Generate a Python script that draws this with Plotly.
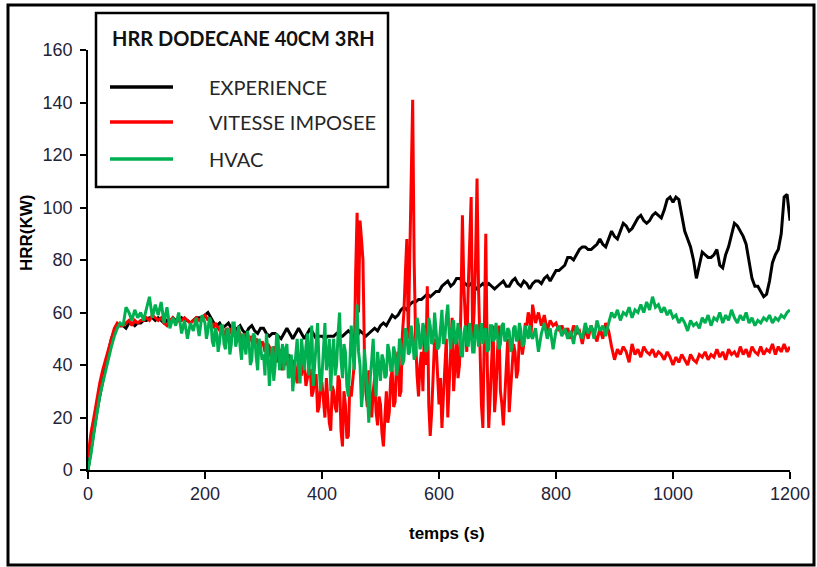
import plotly.graph_objects as go

# time grid (s) for the experimental curve: one sample every 5 s
time_exp = list(range(0, 1205, 5))
# time grid (s) for the simulations: 5 s, then 2.5 s in the unstable phase, then 5 s
time_sim = list(range(0, 200, 5)) + [200 + 2.5 * i for i in range(224)] + list(range(760, 1205, 5))

experience = [
    0, 8, 15, 22, 28, 34, 40, 45, 50, 53, 55, 55, 55, 54, 56, 56, 55, 56, 56, 57,
    57, 58, 58, 57, 58, 57, 56, 57, 56, 58, 57, 57, 58, 57, 57, 56, 57, 58, 58, 58,
    59, 60, 58, 56, 55, 56, 54, 55, 56, 54, 53, 54, 55, 53, 52, 54, 55, 53, 52, 54,
    54, 52, 51, 52, 52, 51, 50, 52, 54, 52, 50, 52, 54, 52, 50, 52, 54, 52, 50, 51,
    51, 50, 51, 51, 51, 52, 51, 51, 52, 53, 52, 50, 51, 53, 52, 51, 52, 53, 54, 53,
    55, 56, 55, 57, 59, 58, 59, 61, 62, 61, 63, 64, 64, 65, 65, 66, 67, 66, 67, 68,
    68, 70, 71, 72, 70, 71, 73, 73, 72, 71, 70, 71, 70, 69, 70, 71, 70, 71, 70, 69,
    70, 71, 72, 70, 70, 72, 73, 71, 70, 72, 71, 69, 71, 72, 72, 71, 73, 74, 72, 74,
    76, 76, 77, 78, 81, 81, 80, 82, 84, 85, 85, 84, 84, 85, 86, 88, 86, 85, 88, 91,
    89, 88, 91, 94, 93, 91, 92, 94, 96, 97, 95, 94, 95, 97, 98, 97, 96, 99, 103, 104,
    102, 104, 103, 97, 91, 88, 85, 80, 73, 78, 83, 82, 81, 81, 82, 84, 78, 77, 82, 85,
    90, 94, 93, 91, 89, 86, 80, 73, 70, 70, 68, 66, 67, 72, 79, 82, 84, 90, 104, 105,
    95,
]

vitesse_imposee = [
    # 0-195 s (5 s)
    5, 14, 20, 27, 33, 38, 42, 46, 50, 54, 56, 55, 55, 56, 57, 55, 57, 56, 57, 57,
    58, 57, 59, 58, 57, 58, 56, 55, 57, 58, 56, 57, 57, 58, 57, 56, 57, 58, 57, 58,
    # 200-297.5 s (2.5 s)
    59, 58, 57, 58, 55, 56, 54, 56, 55, 54, 53, 55, 54, 51, 52, 54, 53, 52, 54, 51,
    52, 53, 51, 53, 52, 49, 50, 52, 51, 48, 49, 51, 50, 47, 48, 50, 49, 46, 47, 49,
    # 300-397.5 s
    48, 45, 46, 48, 47, 43, 45, 47, 46, 41, 44, 46, 42, 38, 44, 41, 40, 44, 43, 36,
    39, 42, 37, 33, 42, 38, 36, 40, 40, 32, 35, 38, 38, 28, 30, 36, 36, 22, 24, 33,
    # 400-497.5 s
    33, 26, 20, 35, 28, 18, 15, 32, 30, 24, 22, 36, 34, 15, 9, 30, 25, 12, 13, 32,
    28, 35, 40, 75, 98, 60, 95, 88, 80, 45, 30, 24, 38, 28, 20, 30, 35, 22, 17, 28,
    # 500-597.5 s
    25, 14, 9, 20, 30, 18, 22, 35, 38, 24, 26, 42, 45, 28, 30, 52, 60, 75, 88, 50,
    85, 110, 141, 80, 50, 36, 28, 40, 45, 30, 55, 40, 70, 25, 13, 22, 35, 50, 48, 38,
    # 600-697.5 s
    25, 35, 16, 28, 38, 50, 20, 32, 45, 58, 30, 42, 50, 35, 40, 62, 97, 70, 55, 45,
    70, 85, 104, 50, 60, 80, 111, 70, 45, 25, 16, 55, 90, 40, 16, 28, 40, 55, 22, 30,
    # 700-757.5 s
    45, 55, 30, 25, 17, 28, 38, 50, 22, 32, 40, 48, 45, 35, 38, 52, 50, 44, 48, 56,
    55, 60, 58, 52,
    # 760-1200 s (5 s)
    63, 56, 60, 55, 59, 53, 57, 55,
    56, 53, 55, 52, 54, 50, 55, 52, 53, 48, 54, 50, 55, 52, 49, 54, 50, 56, 53, 47,
    42, 46, 44, 47, 45, 41, 48, 44, 46, 43, 47, 45, 44, 46, 43, 45, 44, 42, 45, 43,
    40, 43, 41, 44, 42, 40, 44, 42, 41, 44, 43, 45, 42, 44, 43, 46, 43, 45, 42, 46,
    44, 45, 43, 47, 44, 46, 43, 47, 45, 44, 47, 44, 46, 45, 48, 44, 47, 45, 48, 45,
    47,
]

hvac = [
    # 0-195 s (5 s)
    0, 6, 14, 21, 28, 33, 38, 43, 47, 51, 54, 56, 55, 62, 60, 57, 61, 58, 60, 57,
    61, 66, 58, 63, 59, 64, 56, 62, 54, 58, 55, 60, 52, 57, 50, 56, 53, 58, 51, 59,
    # 200-297.5 s (2.5 s)
    56, 50, 53, 58, 57, 49, 47, 54, 52, 45, 49, 55, 55, 48, 46, 53, 54, 44, 48, 56,
    56, 47, 50, 55, 47, 42, 52, 48, 44, 53, 50, 40, 42, 52, 51, 43, 38, 50, 47, 42,
    # 300-397.5 s
    44, 36, 52, 45, 32, 40, 47, 34, 40, 52, 50, 38, 43, 48, 38, 46, 48, 35, 36, 44,
    30, 38, 45, 50, 40, 33, 50, 42, 38, 47, 52, 36, 44, 55, 32, 40, 48, 56, 40, 30,
    # 400-497.5 s
    36, 46, 56, 38, 42, 50, 30, 44, 50, 36, 40, 52, 60, 42, 35, 48, 45, 32, 28, 40,
    55, 46, 38, 52, 63, 45, 40, 24, 30, 46, 38, 30, 18, 35, 42, 50, 35, 28, 45, 38,
    # 500-597.5 s
    34, 44, 42, 35, 36, 48, 45, 38, 38, 47, 44, 36, 40, 50, 48, 40, 42, 54, 52, 44,
    45, 55, 50, 42, 44, 58, 55, 46, 48, 56, 53, 45, 46, 58, 55, 48, 49, 60, 52, 46,
    # 600-697.5 s
    47, 55, 61, 48, 50, 58, 63, 52, 46, 54, 57, 48, 49, 56, 53, 44, 43, 52, 55, 48,
    47, 56, 52, 45, 45, 55, 55, 47, 50, 56, 48, 53, 54, 45, 46, 55, 55, 49, 50, 56,
    # 700-757.5 s
    52, 46, 48, 55, 56, 49, 50, 54, 53, 45, 47, 54, 55, 49, 50, 56, 53, 47, 48, 55,
    52, 50, 55, 51,
    # 760-1200 s (5 s)
    50, 54, 45, 52, 56, 50, 54, 46,
    53, 55, 51, 54, 50, 53, 48, 55, 52, 50, 56, 52, 55, 50, 57, 53, 55, 51, 56, 60,
    58, 61, 57, 60, 59, 62, 58, 61, 60, 63, 60, 64, 61, 66, 62, 63, 60, 62, 59, 61,
    58, 59, 56, 58, 56, 53, 57, 55, 56, 54, 58, 56, 59, 55, 58, 57, 60, 56, 59, 57,
    61, 58, 56, 59, 57, 60, 56, 58, 55, 57, 56, 58, 57, 59, 56, 58, 57, 59, 58, 60,
    61,
]

x_ticks = [0, 200, 400, 600, 800, 1000, 1200]
y_ticks = [0, 20, 40, 60, 80, 100, 120, 140, 160]

series_names = ["EXPERIENCE", "VITESSE IMPOSEE", "HVAC"]
series_colors = ["#000000", "#FF0000", "#00B050"]
chart_title = "HRR DODECANE 40CM 3RH"

W, H = 817, 567
L, R, T, B = 88, 27, 50, 97
PW, PH = W - L - R, H - T - B


def px(xp):
    return (xp - L) / PW


def py(yp):
    return (H - B - yp) / PH


fig = go.Figure()
for name, xs, ys, col in zip(series_names,
                             [time_exp, time_sim, time_sim],
                             [experience, vitesse_imposee, hvac], series_colors):
    fig.add_trace(go.Scatter(x=xs, y=ys, mode="lines", name=name,
                             line=dict(color=col, width=3), showlegend=False))

tick_font = dict(family="Liberation Sans, Arial, sans-serif", size=18, color="#23233a")

fig.update_layout(
    width=W, height=H,
    margin=dict(l=L, r=R, t=T, b=B, pad=0, autoexpand=False),
    paper_bgcolor="white", plot_bgcolor="white",
    xaxis=dict(range=[0, 1200], tickvals=x_ticks, ticks="outside", ticklen=7,
               tickwidth=1.5, tickcolor="black", showline=True, linecolor="black",
               linewidth=1.5, showgrid=False, zeroline=False, tickfont=tick_font,
               automargin=False),
    yaxis=dict(range=[0, 160], tickvals=y_ticks, ticks="outside", ticklen=6,
               tickwidth=1.5, tickcolor="black", showline=True, linecolor="black",
               linewidth=1.5, showgrid=False, zeroline=False, tickfont=tick_font,
               ticklabelstandoff=4, automargin=False),
)

shapes = []
# outer frame
shapes.append(dict(type="rect", xref="paper", yref="paper",
                   x0=px(8), x1=px(814), y0=py(565), y1=py(5),
                   line=dict(color="black", width=3), layer="above"))
# legend box
shapes.append(dict(type="rect", xref="paper", yref="paper",
                   x0=px(96), x1=px(388), y0=py(187), y1=py(13),
                   line=dict(color="black", width=2.5), fillcolor="white", layer="above"))
legend_y = [87, 122, 159]
for yy, col in zip(legend_y, series_colors):
    shapes.append(dict(type="line", xref="paper", yref="paper",
                       x0=px(110), x1=px(173), y0=py(yy), y1=py(yy),
                       line=dict(color=col, width=3.5), layer="above"))
fig.update_layout(shapes=shapes)

leg_font = dict(family="Lato, Open Sans, sans-serif", size=20, color="#262626")
annotations = [
    dict(text="<b>" + chart_title + "</b>", x=px(243), y=py(38), xref="paper", yref="paper",
         showarrow=False, xanchor="center", yanchor="middle",
         font=dict(family="Lato, Open Sans, sans-serif", size=20, color="#111111")),
    dict(text="<b>HRR(KW)</b>", x=px(26), y=py(233), xref="paper", yref="paper",
         showarrow=False, textangle=-90, xanchor="center", yanchor="middle",
         font=dict(family="Liberation Sans, Arial, sans-serif", size=17, color="black")),
    dict(text="<b>temps (s)</b>", x=px(447), y=py(533), xref="paper", yref="paper",
         showarrow=False, xanchor="center", yanchor="middle",
         font=dict(family="Liberation Sans, Arial, sans-serif", size=17, color="black")),
]
for yy, name in zip(legend_y, series_names):
    annotations.append(dict(text=name, x=px(207), y=py(yy), xref="paper", yref="paper",
                            showarrow=False, xanchor="left", yanchor="middle", font=leg_font))
fig.update_layout(annotations=annotations)

fig.write_html("out.html")
